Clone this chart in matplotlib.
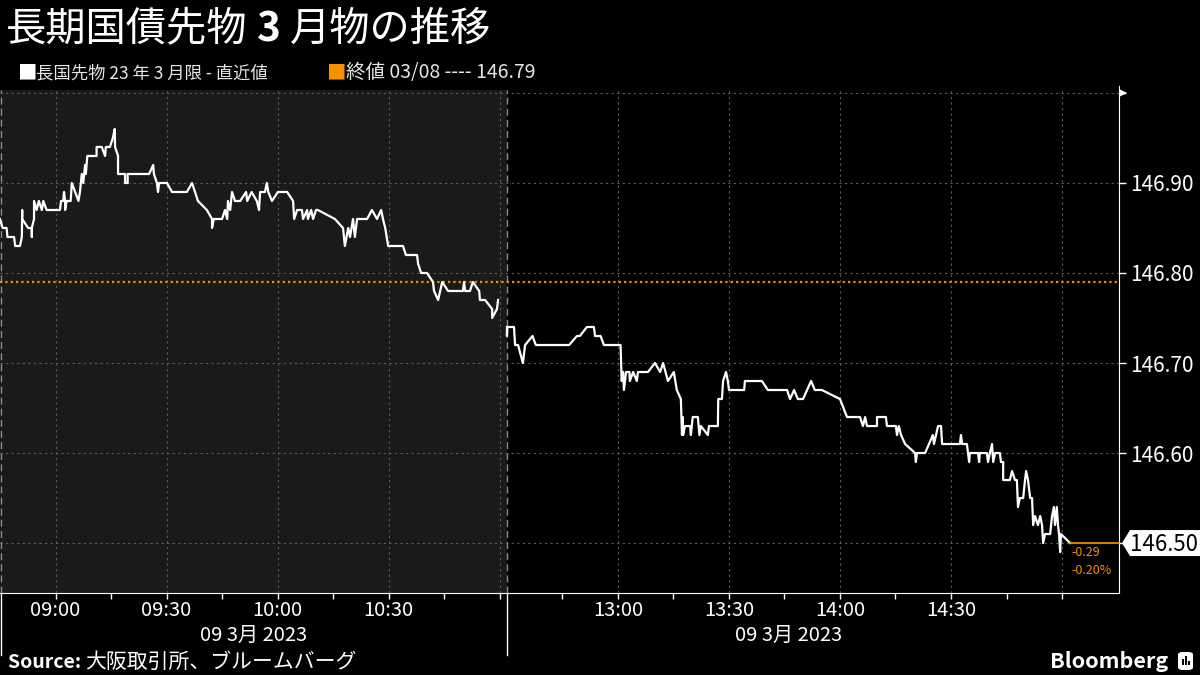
import matplotlib
matplotlib.use("Agg")
import matplotlib.pyplot as plt
from matplotlib.patches import Polygon, FancyBboxPatch, Rectangle
from matplotlib.transforms import IdentityTransform, blended_transform_factory

plt.rcParams['font.family'] = ['Noto Sans CJK JP', 'DejaVu Sans']

# morning session: minutes after 08:45, price
am_min = [0, 0.7, 1.8, 2.0, 3.8, 4.1, 4.7, 5.4, 5.9, 6.0,
          6.0, 7.6, 8.6, 8.6, 8.6, 9.2, 9.2, 9.9, 10.5, 11.3,
          11.7, 12.6, 16.2, 16.5, 17.1, 17.3, 17.6, 17.6, 18.0, 19.1,
          19.4, 20.3, 21.2, 21.6, 22.1, 22.5, 23.0, 23.2, 23.6, 26.1,
          26.1, 27.5, 28.4, 28.6, 29.7, 30.5, 31.0, 31.1, 31.9, 31.9,
          33.8, 33.8, 34.5, 34.5, 40.3, 41.4, 41.6, 42.4, 42.7, 43.0,
          45.1, 46.5, 50.5, 51.9, 53.5, 55.9, 57.3, 57.3, 57.8, 60.0,
          60.8, 61.4, 61.6, 62.2, 62.7, 63.5, 64.9, 66.5, 66.8, 68.0,
          69.4, 70.0, 70.3, 71.6, 72.1, 72.5, 73.5, 75.1, 77.6, 79.2,
          79.5, 80.3, 81.6, 81.9, 83.0, 83.2, 84.1, 84.6, 85.4, 85.9,
          90.5, 92.7, 93.2, 94.1, 94.6, 95.4, 95.9, 96.5, 99.2, 100.5,
          101.9, 103.0, 103.5, 104.1, 104.9, 108.9, 109.7, 112.7, 113.0, 113.8,
          115.4, 117.0, 117.3, 118.4, 119.5, 121.1, 125.1, 125.4, 125.7, 127.0,
          127.8, 129.5, 129.7, 131.1, 133.0, 133.0, 134.3, 134.6]
am_price = [146.86, 146.85, 146.85, 146.84, 146.84, 146.83, 146.83, 146.83, 146.84, 146.87,
            146.86, 146.85, 146.85, 146.84, 146.85, 146.86, 146.88, 146.87, 146.88, 146.87,
            146.88, 146.87, 146.87, 146.88, 146.88, 146.89, 146.88, 146.87, 146.88, 146.88,
            146.90, 146.89, 146.88, 146.89, 146.91, 146.90, 146.92, 146.91, 146.93, 146.93,
            146.94, 146.94, 146.93, 146.94, 146.94, 146.95, 146.96, 146.94, 146.93, 146.91,
            146.91, 146.90, 146.90, 146.91, 146.91, 146.92, 146.91, 146.90, 146.89, 146.90,
            146.90, 146.89, 146.89, 146.90, 146.88, 146.87, 146.86, 146.85, 146.86, 146.86,
            146.87, 146.86, 146.88, 146.87, 146.89, 146.88, 146.88, 146.89, 146.88, 146.89,
            146.88, 146.87, 146.89, 146.89, 146.90, 146.89, 146.88, 146.89, 146.89, 146.88,
            146.86, 146.87, 146.87, 146.86, 146.87, 146.86, 146.87, 146.86, 146.87, 146.87,
            146.86, 146.85, 146.83, 146.85, 146.84, 146.86, 146.84, 146.86, 146.86, 146.87,
            146.86, 146.87, 146.86, 146.85, 146.83, 146.83, 146.82, 146.82, 146.81, 146.80,
            146.80, 146.79, 146.78, 146.77, 146.79, 146.78, 146.78, 146.79, 146.78, 146.78,
            146.79, 146.78, 146.77, 146.77, 146.76, 146.75, 146.76, 146.77]

# afternoon session: minutes after 12:30, price
pm_min = [0, 0, 0.1, 1.9, 2.2, 3.0, 4.3, 4.9, 6.9, 7.8,
          16.8, 18.9, 19.7, 21.6, 23.5, 23.8, 25.3, 26.2, 30.7, 31.0,
          31.4, 31.6, 32.2, 33.1, 33.2, 34.1, 35.1, 35.4, 38.1, 40.0,
          41.4, 42.2, 43.5, 45.1, 45.9, 47.0, 47.3, 47.5, 47.6, 48.1,
          49.5, 49.7, 50.2, 51.6, 52.0, 52.4, 54.3, 54.6, 57.0, 57.1,
          58.1, 58.4, 59.2, 59.7, 60.0, 64.1, 64.3, 68.9, 70.5, 75.7,
          76.5, 77.6, 78.6, 80.0, 82.2, 83.2, 85.1, 90.0, 91.9, 95.4,
          96.2, 96.8, 97.3, 100.0, 100.0, 102.4, 102.7, 105.1, 105.4, 105.9,
          106.5, 107.6, 110.3, 110.5, 110.8, 113.0, 115.1, 115.4, 116.5, 117.3,
          117.6, 122.4, 122.7, 123.0, 124.3, 124.6, 124.9, 125.1, 127.3, 127.6,
          127.8, 129.7, 130.0, 130.5, 131.1, 131.4, 131.9, 133.2, 133.5, 134.1,
          134.1, 135.9, 136.5, 137.3, 137.8, 138.1, 138.6, 139.5, 140.0, 140.3,
          140.8, 141.4, 141.9, 142.2, 142.7, 143.5, 144.1, 144.6, 144.9, 145.4,
          146.8, 147.3, 147.8, 148.1, 148.6, 148.9, 149.2, 149.5, 149.7, 152.2]
pm_price = [146.74, 146.73, 146.74, 146.74, 146.72, 146.72, 146.70, 146.72, 146.73, 146.72,
            146.72, 146.73, 146.73, 146.74, 146.74, 146.73, 146.73, 146.72, 146.72, 146.68,
            146.69, 146.67, 146.69, 146.69, 146.68, 146.69, 146.68, 146.69, 146.69, 146.70,
            146.69, 146.70, 146.68, 146.69, 146.67, 146.66, 146.62, 146.64, 146.62, 146.63,
            146.63, 146.62, 146.64, 146.64, 146.62, 146.63, 146.62, 146.63, 146.63, 146.66,
            146.66, 146.68, 146.69, 146.68, 146.67, 146.67, 146.68, 146.68, 146.67, 146.67,
            146.66, 146.67, 146.66, 146.66, 146.68, 146.67, 146.67, 146.66, 146.64, 146.64,
            146.63, 146.64, 146.63, 146.63, 146.64, 146.64, 146.63, 146.63, 146.62, 146.63,
            146.62, 146.61, 146.60, 146.59, 146.60, 146.60, 146.62, 146.61, 146.63, 146.63,
            146.61, 146.61, 146.62, 146.61, 146.61, 146.60, 146.59, 146.60, 146.60, 146.59,
            146.60, 146.60, 146.59, 146.60, 146.61, 146.59, 146.60, 146.60, 146.59, 146.59,
            146.57, 146.57, 146.58, 146.57, 146.57, 146.54, 146.55, 146.55, 146.57, 146.58,
            146.57, 146.55, 146.55, 146.52, 146.53, 146.52, 146.53, 146.52, 146.50, 146.51,
            146.51, 146.53, 146.54, 146.52, 146.54, 146.52, 146.51, 146.49, 146.51, 146.50]

prev_close = 146.79
prev_date = "03/08"
y_ticks = [146.50, 146.60, 146.70, 146.80, 146.90, 147.00]
y_labels = ["", "146.60", "146.70", "146.80", "146.90", ""]  # 146.50 sits under the last-value box
am_ticks = ["09:00", "09:15", "09:30", "09:45", "10:00", "10:15", "10:30", "10:45", "11:00"]
am_labels = ["09:00", "", "09:30", "", "10:00", "", "10:30", "", ""]
pm_ticks = ["12:45", "13:00", "13:15", "13:30", "13:45", "14:00", "14:15", "14:30", "14:45", "15:00"]
pm_labels = ["", "13:00", "", "13:30", "", "14:00", "", "14:30", "", ""]
date_label = "09 3月 2023"

AM_LEN = 137  # 08:45 -> 11:02


def clock(s):
    h, m = s.split(":")
    return int(h) * 60 + int(m)


def am_x(s):
    return clock(s) - clock("08:45")


def pm_x(s):
    return AM_LEN + clock(s) - clock("12:30")


W, H = 1200, 675
fig = plt.figure(figsize=(12, 6.75), dpi=100, facecolor="black")
ax = fig.add_axes([0, (H - 593) / H, 1119 / W, (593 - 90) / H])
ax.set_facecolor("black")

orange = "#f39200"
grid_c = "#5c5c5c"

ax.axvspan(0, AM_LEN, color="#1a1a1a", zorder=0, lw=0)
ax.set_xlim(0, 302.4)
ax.set_ylim(146.4445, 147.0033)

# grid
for v in y_ticks:
    ax.axhline(v, color=grid_c, lw=0.8, ls=(0, (2, 3)), zorder=1)
for s in ["09:00", "09:30", "10:00", "10:30", "11:00"]:
    ax.axvline(am_x(s), color=grid_c, lw=0.8, ls=(0, (2, 3)), zorder=1)
for s in ["13:00", "13:30", "14:00", "14:30", "15:00"]:
    ax.axvline(pm_x(s), color=grid_c, lw=0.8, ls=(0, (2, 3)), zorder=1)
for xx in [0.3, AM_LEN]:
    ax.axvline(xx, color="#8a8a8a", lw=1, ls=(0, (5, 3)), zorder=1)

# previous close
ax.axhline(prev_close, color=orange, lw=1.6, ls=(0, (1, 1.4)), zorder=2)

# price line
ax.plot(am_min, am_price, color="white", lw=1.6, zorder=3)
pm_xs = [AM_LEN + m for m in pm_min]
ax.plot(pm_xs, pm_price, color="white", lw=1.6, zorder=3)

last = pm_price[-1]
x_last = pm_xs[-1]
ax.plot([x_last, ax.get_xlim()[1]], [last, last], color=orange, lw=1.2,
        zorder=3, clip_on=False)
chg = last - prev_close
ax.annotate(f"{chg:.2f}", (x_last, last), xytext=(1, -7), textcoords="offset points",
            color=orange, fontsize=9, va="center", ha="left")
ax.annotate(f"{chg / prev_close * 100:.2f}%", (x_last, last), xytext=(1, -19.5),
            textcoords="offset points", color=orange, fontsize=9, va="center", ha="left")

# axes styling
for side in ["left", "top"]:
    ax.spines[side].set_visible(False)
ax.spines["right"].set_color("white")
ax.spines["bottom"].set_color("white")
ax.spines["right"].set_bounds(146.4445, 147.008)
ax.yaxis.tick_right()
ax.set_yticks(y_ticks)
ax.set_yticklabels(y_labels)
ax.tick_params(axis="y", colors="white", labelsize=15, length=5, width=1, pad=3)
xt = [am_x(s) for s in am_ticks] + [pm_x(s) for s in pm_ticks]
ax.set_xticks(xt)
ax.set_xticklabels(am_labels + pm_labels)
ax.tick_params(axis="x", colors="white", labelsize=14.5, length=4, width=1, pad=1)

# date labels and separators
bt = blended_transform_factory(ax.transData, ax.transAxes)
ax.text(AM_LEN / 2, -0.085, date_label, transform=bt, ha="center", va="center",
        color="white", fontsize=14.5)
ax.text((AM_LEN + pm_xs[-1]) / 2, -0.085, date_label, transform=bt, ha="center",
        va="center", color="white", fontsize=14.5)
for xx in [0.3, AM_LEN]:
    ax.plot([xx, xx], [0, -0.123], transform=bt, color="white", lw=1, clip_on=False)

# last value box and top flag on the price axis
renderer = fig.canvas.get_renderer()
yd = ax.transData.transform((0, last))[1]
x1 = ax.bbox.x1
box = Polygon([(x1 + 3, yd), (x1 + 11, yd + 13), (W, yd + 13), (W, yd - 13), (x1 + 11, yd - 13)],
              closed=True, facecolor="white", edgecolor="none", transform=IdentityTransform())
fig.add_artist(box)
fig.text(x1 + 11, yd - 1, f"{last:.2f}", transform=IdentityTransform(), color="black",
         fontsize=16, ha="left", va="center")
ytop = ax.transData.transform((0, y_ticks[-1]))[1]
fig.add_artist(Polygon([(x1, ytop + 4), (x1, ytop - 4), (x1 + 8, ytop)], closed=True,
                       facecolor="white", edgecolor="none", transform=IdentityTransform()))


def row(x_px, y_px, pieces):
    x = x_px
    for s, kw in pieces:
        t = fig.text(x / W, 1 - y_px / H, s, ha="left", va="baseline", **kw)
        x += t.get_window_extent(renderer).width
    return x


# title
row(6, 41, [("長期国債先物", dict(color="white", fontsize=29)),
            (" 3 ", dict(color="white", fontsize=29, fontweight="bold")),
            ("月物の推移", dict(color="white", fontsize=29))])

# legend
row(17, 78, [("■", dict(color="white", fontsize=14)),
             ("長国先物 23 年 3 月限 - 直近値", dict(color="#e6e6e6", fontsize=12.5))])
row(326, 78, [("■", dict(color=orange, fontsize=14)),
              (f"終値 {prev_date} ---- {prev_close:.2f}", dict(color="#e6e6e6", fontsize=14))])

# footer
row(8, 668, [("Source: ", dict(color="white", fontsize=14, fontweight="bold")),
             ("大阪取引所、ブルームバーグ", dict(color="white", fontsize=15))])
fig.text(1168 / W, 1 - 668 / H, "Bloomberg", ha="right", va="baseline", color="white",
         fontsize=15.5, fontweight="bold")
fig.add_artist(FancyBboxPatch((1178 / W, 1 - 670 / H), 15 / W, 18 / H,
                              boxstyle="round,pad=0,rounding_size=0.004",
                              transform=fig.transFigure, facecolor="white", edgecolor="none"))
for bx, bh in [(1182, 6), (1185, 9), (1188, 4)]:
    fig.add_artist(Rectangle((bx / W, 1 - 665 / H), 1.6 / W, bh / H, transform=fig.transFigure,
                             facecolor="black", edgecolor="none"))

fig.savefig("out.png", dpi=100, facecolor="black")
